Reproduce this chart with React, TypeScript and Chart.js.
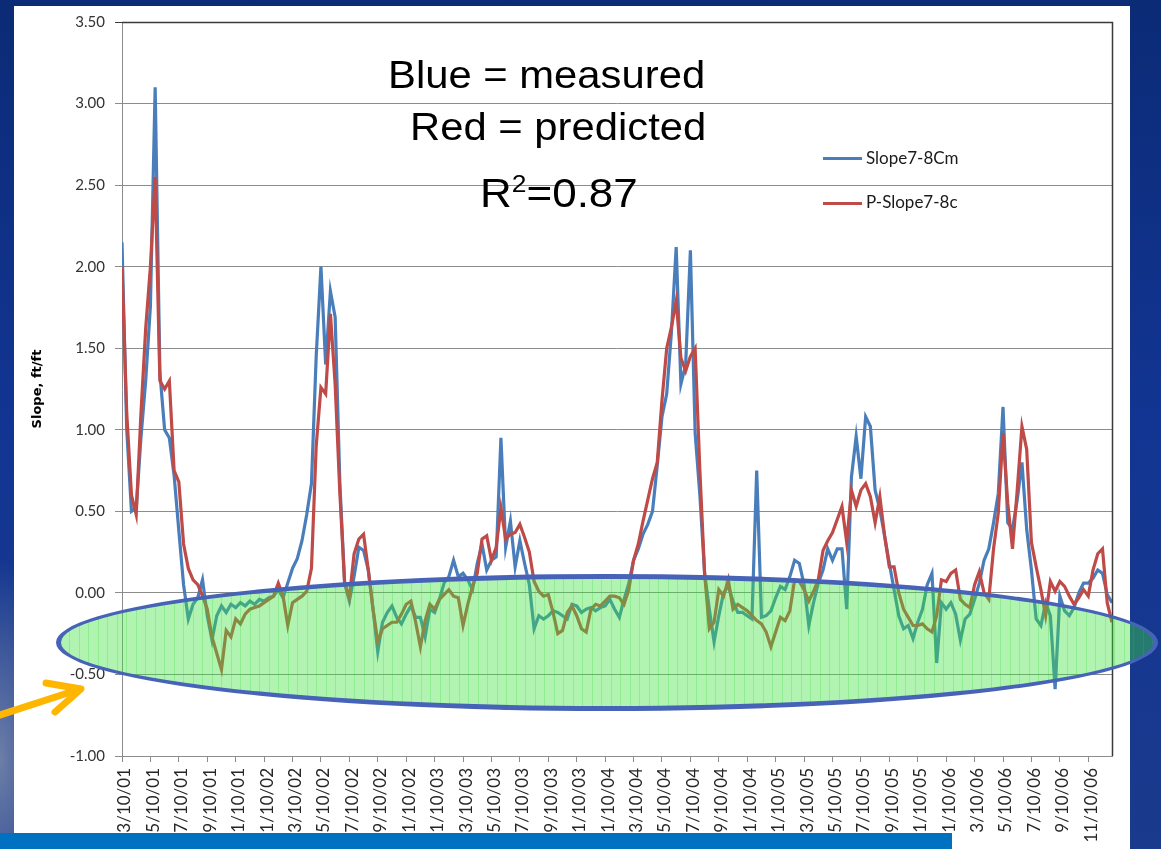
import React, { useEffect, useRef } from "react";
import { Chart, registerables } from "chart.js";

Chart.register(...registerables);

// Tick labels on the category (date) axis, one every two months starting 3/10/01
const tickLabels = [
  "3/10/01", "5/10/01", "7/10/01", "9/10/01", "11/10/01",
  "1/10/02", "3/10/02", "5/10/02", "7/10/02", "9/10/02", "11/10/02",
  "1/10/03", "3/10/03", "5/10/03", "7/10/03", "9/10/03", "11/10/03",
  "1/10/04", "3/10/04", "5/10/04", "7/10/04", "9/10/04", "11/10/04",
  "1/10/05", "3/10/05", "5/10/05", "7/10/05", "9/10/05", "11/10/05",
  "1/10/06", "3/10/06", "5/10/06", "7/10/06", "9/10/06", "11/10/06",
];
const tickStepMonths = 2;
const sampleStepMonths = 1 / 3; // one reading about every 10 days
const lastMonth = 69.67;

// Slope7-8Cm (measured)
const measured = [
  2.15, 1.0, 0.5, 0.52, 0.95, 1.3, 1.76, 3.1, 1.35, 1.0,
  0.95, 0.72, 0.38, 0.05, -0.16, -0.07, -0.03, 0.08, -0.14, -0.29,
  -0.14, -0.08, -0.12, -0.07, -0.09, -0.06, -0.08, -0.05, -0.07, -0.04,
  -0.05, -0.03, -0.02, 0.02, -0.03, 0.06, 0.15, 0.21, 0.32, 0.48,
  0.67, 1.45, 2.0, 1.4, 1.85, 1.69, 0.67, 0.06, -0.05, 0.1,
  0.28, 0.26, 0.14, -0.1, -0.36, -0.18, -0.12, -0.08, -0.15, -0.19,
  -0.13, -0.08, -0.15, -0.15, -0.27, -0.1, -0.12, -0.04, 0.06, 0.1,
  0.2, 0.1, 0.12, 0.08, 0.02, 0.18, 0.3, 0.14, 0.2, 0.22,
  0.95, 0.28, 0.44, 0.16, 0.32, 0.18, 0.05, -0.22, -0.14, -0.16,
  -0.14, -0.11, -0.12, -0.14, -0.16, -0.07, -0.08, -0.12, -0.1, -0.09,
  -0.11, -0.09, -0.08, -0.04, -0.1, -0.15, -0.04, 0.06, 0.2, 0.27,
  0.36, 0.42, 0.5, 0.78, 1.08, 1.22, 1.6, 2.12, 1.28, 1.4,
  2.1, 0.98, 0.6, 0.12, -0.1, -0.3, -0.14, 0.0, 0.04, -0.05,
  -0.12, -0.12, -0.14, -0.16, 0.75, -0.15, -0.14, -0.11, -0.03, 0.04,
  0.02, 0.1, 0.2, 0.18, 0.05, -0.2, -0.06, 0.06, 0.14, 0.27,
  0.2, 0.27, 0.27, -0.1, 0.71, 0.96, 0.7, 1.08, 1.02, 0.63,
  0.51, 0.35, 0.18, 0.02, -0.14, -0.22, -0.2, -0.28, -0.18, -0.1,
  0.05, 0.12, -0.43, -0.06, -0.1, -0.06, -0.13, -0.29, -0.16, -0.13,
  -0.04, 0.06, 0.2, 0.27, 0.43, 0.61, 1.14, 0.43, 0.39, 0.57,
  0.8, 0.39, 0.14, -0.16, -0.2, -0.06, -0.14, -0.59, -0.02, -0.11,
  -0.14, -0.09, 0.0, 0.06, 0.06, 0.09, 0.14, 0.12, -0.01, -0.06,
];

// P-Slope7-8c (predicted)
const predicted = [
  2.0, 1.1, 0.6, 0.48, 1.1, 1.62, 2.0, 2.55, 1.3, 1.25,
  1.3, 0.75, 0.68, 0.3, 0.15, 0.08, 0.05, -0.02, -0.1, -0.27,
  -0.37, -0.47, -0.23, -0.27, -0.16, -0.19, -0.13, -0.1, -0.09, -0.08,
  -0.06, -0.04, -0.02, 0.06, -0.02, -0.2, -0.06, -0.04, -0.02, 0.01,
  0.15, 0.9, 1.26, 1.22, 1.71, 1.28, 0.61, 0.06, -0.03, 0.24,
  0.33, 0.36, 0.14, -0.1, -0.3, -0.22, -0.2, -0.18, -0.18, -0.13,
  -0.07, -0.05, -0.18, -0.33, -0.17, -0.07, -0.1, -0.04, -0.01, 0.02,
  -0.02, -0.03, -0.2, -0.07, 0.04, 0.12, 0.33, 0.35, 0.2, 0.28,
  0.52, 0.33, 0.36, 0.37, 0.42, 0.34, 0.25, 0.07, 0.01, -0.02,
  -0.01, -0.12, -0.25, -0.23, -0.12, -0.08, -0.14, -0.22, -0.24, -0.1,
  -0.07, -0.08, -0.05, -0.02, -0.02, -0.03, -0.07, 0.02, 0.2, 0.3,
  0.44, 0.57, 0.7, 0.8, 1.18, 1.5, 1.63, 1.79, 1.44, 1.36,
  1.45, 1.5, 0.75, 0.12, -0.22, -0.18, 0.02, -0.02, 0.08, -0.1,
  -0.07, -0.09, -0.11, -0.14, -0.17, -0.19, -0.24, -0.33, -0.24, -0.15,
  -0.17, -0.11, 0.08, 0.07, 0.02, -0.05, 0.01, 0.08, 0.26, 0.32,
  0.37, 0.45, 0.53, 0.31, 0.63, 0.53, 0.63, 0.67, 0.59, 0.43,
  0.59, 0.35, 0.16, 0.16, 0.0, -0.1, -0.15, -0.2, -0.2, -0.19,
  -0.22, -0.24, -0.14, 0.08, 0.07, 0.12, 0.14, -0.04, -0.07, -0.09,
  0.05, 0.13, 0.0, -0.04, 0.27, 0.49, 0.98, 0.55, 0.27, 0.63,
  1.02, 0.88, 0.31, 0.16, 0.02, -0.14, 0.07, 0.01, 0.07, 0.04,
  -0.02, -0.07, -0.03, 0.02, -0.02, 0.14, 0.24, 0.27, -0.06, -0.18,
];

const seriesNames = ["Slope7-8Cm", "P-Slope7-8c"];
const seriesColors = ["#4a7ebb", "#be4b48"];

const framePlugin = {
  id: "frame",
  afterDraw(chart: any) {
    const { ctx, chartArea: a } = chart;
    ctx.save();
    ctx.strokeStyle = "#3a3a3a";
    ctx.lineWidth = 1.5;
    ctx.beginPath();
    ctx.moveTo(a.left, a.top + 0.5);
    ctx.lineTo(a.right + 0.5, a.top + 0.5);
    ctx.lineTo(a.right + 0.5, a.bottom);
    ctx.stroke();
    ctx.restore();
  },
};

export default function App() {
  const ref = useRef<HTMLCanvasElement>(null);

  useEffect(() => {
    const toPoints = (arr: number[]) =>
      arr.map((v, i) => ({ x: i * sampleStepMonths, y: v }));
    const chart = new Chart(ref.current as HTMLCanvasElement, {
      type: "line",
      data: {
        datasets: [
          {
            label: seriesNames[0],
            data: toPoints(measured),
            borderColor: seriesColors[0],
            borderWidth: 3.2,
            pointRadius: 0,
            tension: 0,
            order: 1,
          },
          {
            label: seriesNames[1],
            data: toPoints(predicted),
            borderColor: seriesColors[1],
            borderWidth: 3.2,
            pointRadius: 0,
            tension: 0,
            order: 0,
          },
        ],
      },
      options: {
        responsive: false,
        animation: false,
        devicePixelRatio: 1,
        layout: { padding: { left: 26, top: 22, right: 49, bottom: 0 } },
        plugins: {
          legend: { display: false },
          tooltip: { enabled: false },
        },
        scales: {
          x: {
            type: "linear",
            min: 0,
            max: lastMonth,
            afterBuildTicks: (scale: any) => {
              scale.ticks = tickLabels.map((_, k) => ({ value: k * tickStepMonths }));
            },
            afterFit: (scale: any) => {
              scale.height = 93;
            },
            grid: {
              drawOnChartArea: false,
              drawTicks: true,
              tickLength: 6,
              color: "#8c8c8c",
            },
            border: { display: true, color: "#8c8c8c" },
            ticks: {
              autoSkip: false,
              maxRotation: 90,
              minRotation: 90,
              padding: 6,
              labelOffset: 3,
              color: "#262626",
              font: { family: "Lato", size: 17 },
              callback: (_v: any, i: number) => tickLabels[i],
            },
          },
          y: {
            min: -1,
            max: 3.5,
            afterFit: (scale: any) => {
              scale.width = 96;
            },
            ticks: {
              stepSize: 0.5,
              padding: 10,
              color: "#333333",
              font: { family: "Lato", size: 15 },
              callback: (v: any) => Number(v).toFixed(2),
            },
            grid: {
              color: (ctx: any) =>
                ctx.tick && ctx.tick.value === 3.5 ? "#3a3a3a" : "#8c8c8c",
              tickLength: 7,
            },
            border: { display: true, color: "#8c8c8c" },
            title: {
              display: true,
              text: "Slope, ft/ft",
              color: "#000000",
              font: { family: "DejaVu Sans", size: 13, weight: "bold" },
              padding: { top: 4, bottom: 4 },
            },
          },
        },
      },
      plugins: [framePlugin],
    } as any);
    return () => chart.destroy();
  }, []);

  const titleFont = '"Liberation Sans", Arial, sans-serif';

  return (
    <div
      style={{
        position: "fixed",
        left: 0,
        top: 0,
        width: 1161,
        height: 849,
        overflow: "hidden",
        background:
          "radial-gradient(ellipse 60px 200px at 0px 760px, #6d7fa8 0%, rgba(60,80,150,0) 100%), linear-gradient(180deg, #0b2b76 0%, #123593 50%, #1a3a8c 100%)",
      }}
    >
      <div
        style={{
          position: "absolute",
          left: 14,
          top: 6,
          width: 1116,
          height: 843,
          background: "#ffffff",
        }}
      />
      <canvas
        ref={ref}
        width={1161}
        height={849}
        style={{ position: "absolute", left: 0, top: 0, width: 1161, height: 849 }}
      />
      <div
        style={{
          position: "absolute",
          left: 388,
          top: 56,
          font: `38px ${titleFont}`,
          lineHeight: "38px",
          transform: "scaleX(1.1)",
          transformOrigin: "0 0",
          whiteSpace: "nowrap",
          color: "#000",
        }}
      >
        Blue = measured
      </div>
      <div
        style={{
          position: "absolute",
          left: 410,
          top: 108,
          font: `38px ${titleFont}`,
          lineHeight: "38px",
          transform: "scaleX(1.1)",
          transformOrigin: "0 0",
          whiteSpace: "nowrap",
          color: "#000",
        }}
      >
        Red = predicted
      </div>
      <div
        style={{
          position: "absolute",
          left: 480,
          top: 173,
          font: `40px ${titleFont}`,
          lineHeight: "40px",
          transform: "scaleX(1.1)",
          transformOrigin: "0 0",
          whiteSpace: "nowrap",
          color: "#000",
        }}
      >
        R
        <span
          style={{
            fontSize: "0.6em",
            position: "relative",
            top: "-0.62em",
            lineHeight: 0,
          }}
        >
          2
        </span>
        =0.87
      </div>

      {/* legend */}
      <div
        style={{
          position: "absolute",
          left: 823,
          top: 157,
          width: 39,
          height: 3,
          background: seriesColors[0],
        }}
      />
      <div
        style={{
          position: "absolute",
          left: 866,
          top: 148,
          font: '17px Lato, "Open Sans", sans-serif',
          lineHeight: "20px",
          color: "#1a1a1a",
          whiteSpace: "nowrap",
        }}
      >
        {seriesNames[0]}
      </div>
      <div
        style={{
          position: "absolute",
          left: 823,
          top: 201.5,
          width: 39,
          height: 3,
          background: seriesColors[1],
        }}
      />
      <div
        style={{
          position: "absolute",
          left: 866,
          top: 192,
          font: '17px Lato, "Open Sans", sans-serif',
          lineHeight: "20px",
          color: "#1a1a1a",
          whiteSpace: "nowrap",
        }}
      >
        {seriesNames[1]}
      </div>

      {/* highlighted ellipse */}
      <div
        style={{
          position: "absolute",
          left: 56,
          top: 574,
          width: 1102,
          height: 137,
          boxSizing: "border-box",
          borderRadius: "50%",
          border: "5px solid #4663b8",
          background:
            "repeating-linear-gradient(90deg, rgba(0,0,0,0) 0px, rgba(0,0,0,0) 8.5px, rgba(30,210,30,0.22) 8.5px, rgba(30,210,30,0.22) 9.5px), rgba(60,228,60,0.4)",
        }}
      />

      {/* arrow */}
      <svg
        width={1161}
        height={849}
        style={{ position: "absolute", left: 0, top: 0 }}
      >
        <line
          x1={-6}
          y1={717}
          x2={80}
          y2={689}
          stroke="#ffb600"
          strokeWidth={7}
          strokeLinecap="round"
        />
        <polyline
          points="46,683 81,689 55,712"
          fill="none"
          stroke="#ffb600"
          strokeWidth={7}
          strokeLinecap="round"
          strokeLinejoin="round"
        />
      </svg>

      {/* slide footer bar */}
      <div
        style={{
          position: "absolute",
          left: 0,
          top: 833,
          width: 952,
          height: 16,
          background: "#0070c0",
        }}
      />
    </div>
  );
}
